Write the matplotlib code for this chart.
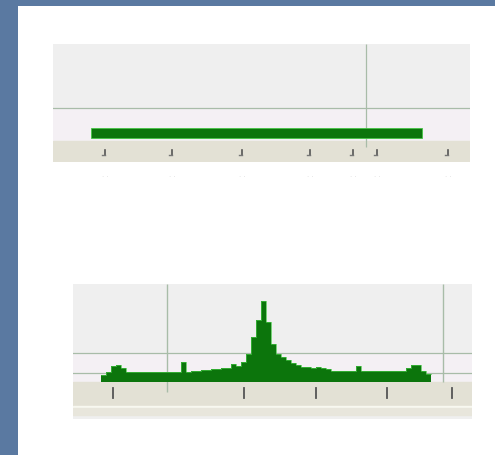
import matplotlib.pyplot as plt
import matplotlib.patches as mpatches
import numpy as np

# top chart: one flat block (start, width, height)
top_block = [0, 331, 10]
top_guide_x = [275]
top_guide_y = [30]
top_ticks = [14, 81, 151, 219, 262, 286, 357]

# bottom chart: histogram heights, one value per bin
bottom_counts = [7, 10, 16, 17, 14, 10, 10, 10, 10, 10, 10, 10, 10, 10, 10, 10,
                 20, 10, 11, 11, 12, 12, 13, 13, 14, 14, 18, 16, 20, 28, 45, 62,
                 81, 60, 38, 28, 25, 22, 19, 17, 15, 15, 14, 15, 14, 13, 11, 11,
                 11, 11, 11, 16, 11, 11, 11, 11, 11, 11, 11, 11, 11, 14, 17, 17,
                 11, 8]
bin_w = 5
bottom_guide_x = [66, 342]
bottom_guide_y = [9, 29]
bottom_ticks = [12, 143, 215, 286, 351]

W, H = 495, 456
fig = plt.figure(figsize=(W / 100, H / 100), dpi=100)
fig.patch.set_facecolor('#5a79a1')

# white slide area
fig.patches.append(mpatches.Rectangle((18 / W, 0), 1, (H - 7) / H,
                                      transform=fig.transFigure,
                                      facecolor='white', edgecolor='none', zorder=-10))

green = '#0c750c'
edge = '#44c444'
grid = '#a8bca8'
panel = '#efefef'
beige = '#e3e1d5'


def make_ax(x0, x1, ytop, ybot):
    return fig.add_axes([x0 / W, (H - ybot) / H, (x1 - x0) / W, (ybot - ytop) / H])


# ---- top chart ----
ax1 = make_ax(53, 470, 45, 163)
ax1.set_xlim(-38, 379)
ax1.set_ylim(-24, 94)
ax1.set_facecolor(panel)
ax1.axhspan(-3, top_guide_y[0], color='#f4f0f4', zorder=0)
ax1.axhspan(-24, -3, color=beige, zorder=1)
ax1.vlines(top_guide_x, -9, 94, color=grid, lw=0.9, zorder=2)
for gy in top_guide_y:
    ax1.axhline(gy, color=grid, lw=0.9, zorder=2)
ax1.bar(top_block[0], top_block[2], width=top_block[1], align='edge',
        color=green, edgecolor=edge, lw=0.6, zorder=3)
for t in top_ticks:
    ax1.plot([t, t], [-12, -17], color='#555555', lw=1.2, zorder=4)
    ax1.plot([t - 3, t], [-17, -17], color='#777777', lw=1.0, zorder=4)
for s in ax1.spines.values():
    s.set_visible(False)
ax1.set_xticks([])
ax1.set_yticks([])

# faint labels under the top chart
for t in top_ticks:
    fig.text((53 + 38 + t) / W, (H - 177) / H, '· ·', color='#dddddd',
             fontsize=5, ha='center', va='center')

# ---- bottom chart ----
ax2 = make_ax(73, 472, 285, 420)
ax2.set_xlim(-28, 371)
ax2.set_ylim(-37, 98)
ax2.set_facecolor(panel)
ax2.axhspan(0, bottom_guide_y[1], color='#f4f0f4', zorder=0)
ax2.axhspan(-24, 0, color=beige, zorder=1)
ax2.axhspan(-26, -24, color='#f8f8f0', zorder=1)
ax2.axhspan(-33, -26, color='#e8e6dc', zorder=1)
ax2.vlines(bottom_guide_x[0], -10, 98, color=grid, lw=1.0, zorder=2)
ax2.vlines(bottom_guide_x[1], 0, 98, color=grid, lw=1.0, zorder=2)
for gy in bottom_guide_y:
    ax2.axhline(gy, color=grid, lw=0.9, zorder=2)
xs = np.arange(len(bottom_counts)) * bin_w
ax2.bar(xs, bottom_counts, width=bin_w, align='edge',
        color=green, edgecolor='none', zorder=3)
ax2.step(np.append(xs, xs[-1] + bin_w), bottom_counts + [bottom_counts[-1]],
         where='post', color=edge, lw=0.5, zorder=3)
for t in bottom_ticks:
    ax2.plot([t, t], [-6, -16], color='#555555', lw=1.3, zorder=4)
for s in ax2.spines.values():
    s.set_visible(False)
ax2.set_xticks([])
ax2.set_yticks([])

fig.savefig('out.png', dpi=100, facecolor=fig.get_facecolor())
